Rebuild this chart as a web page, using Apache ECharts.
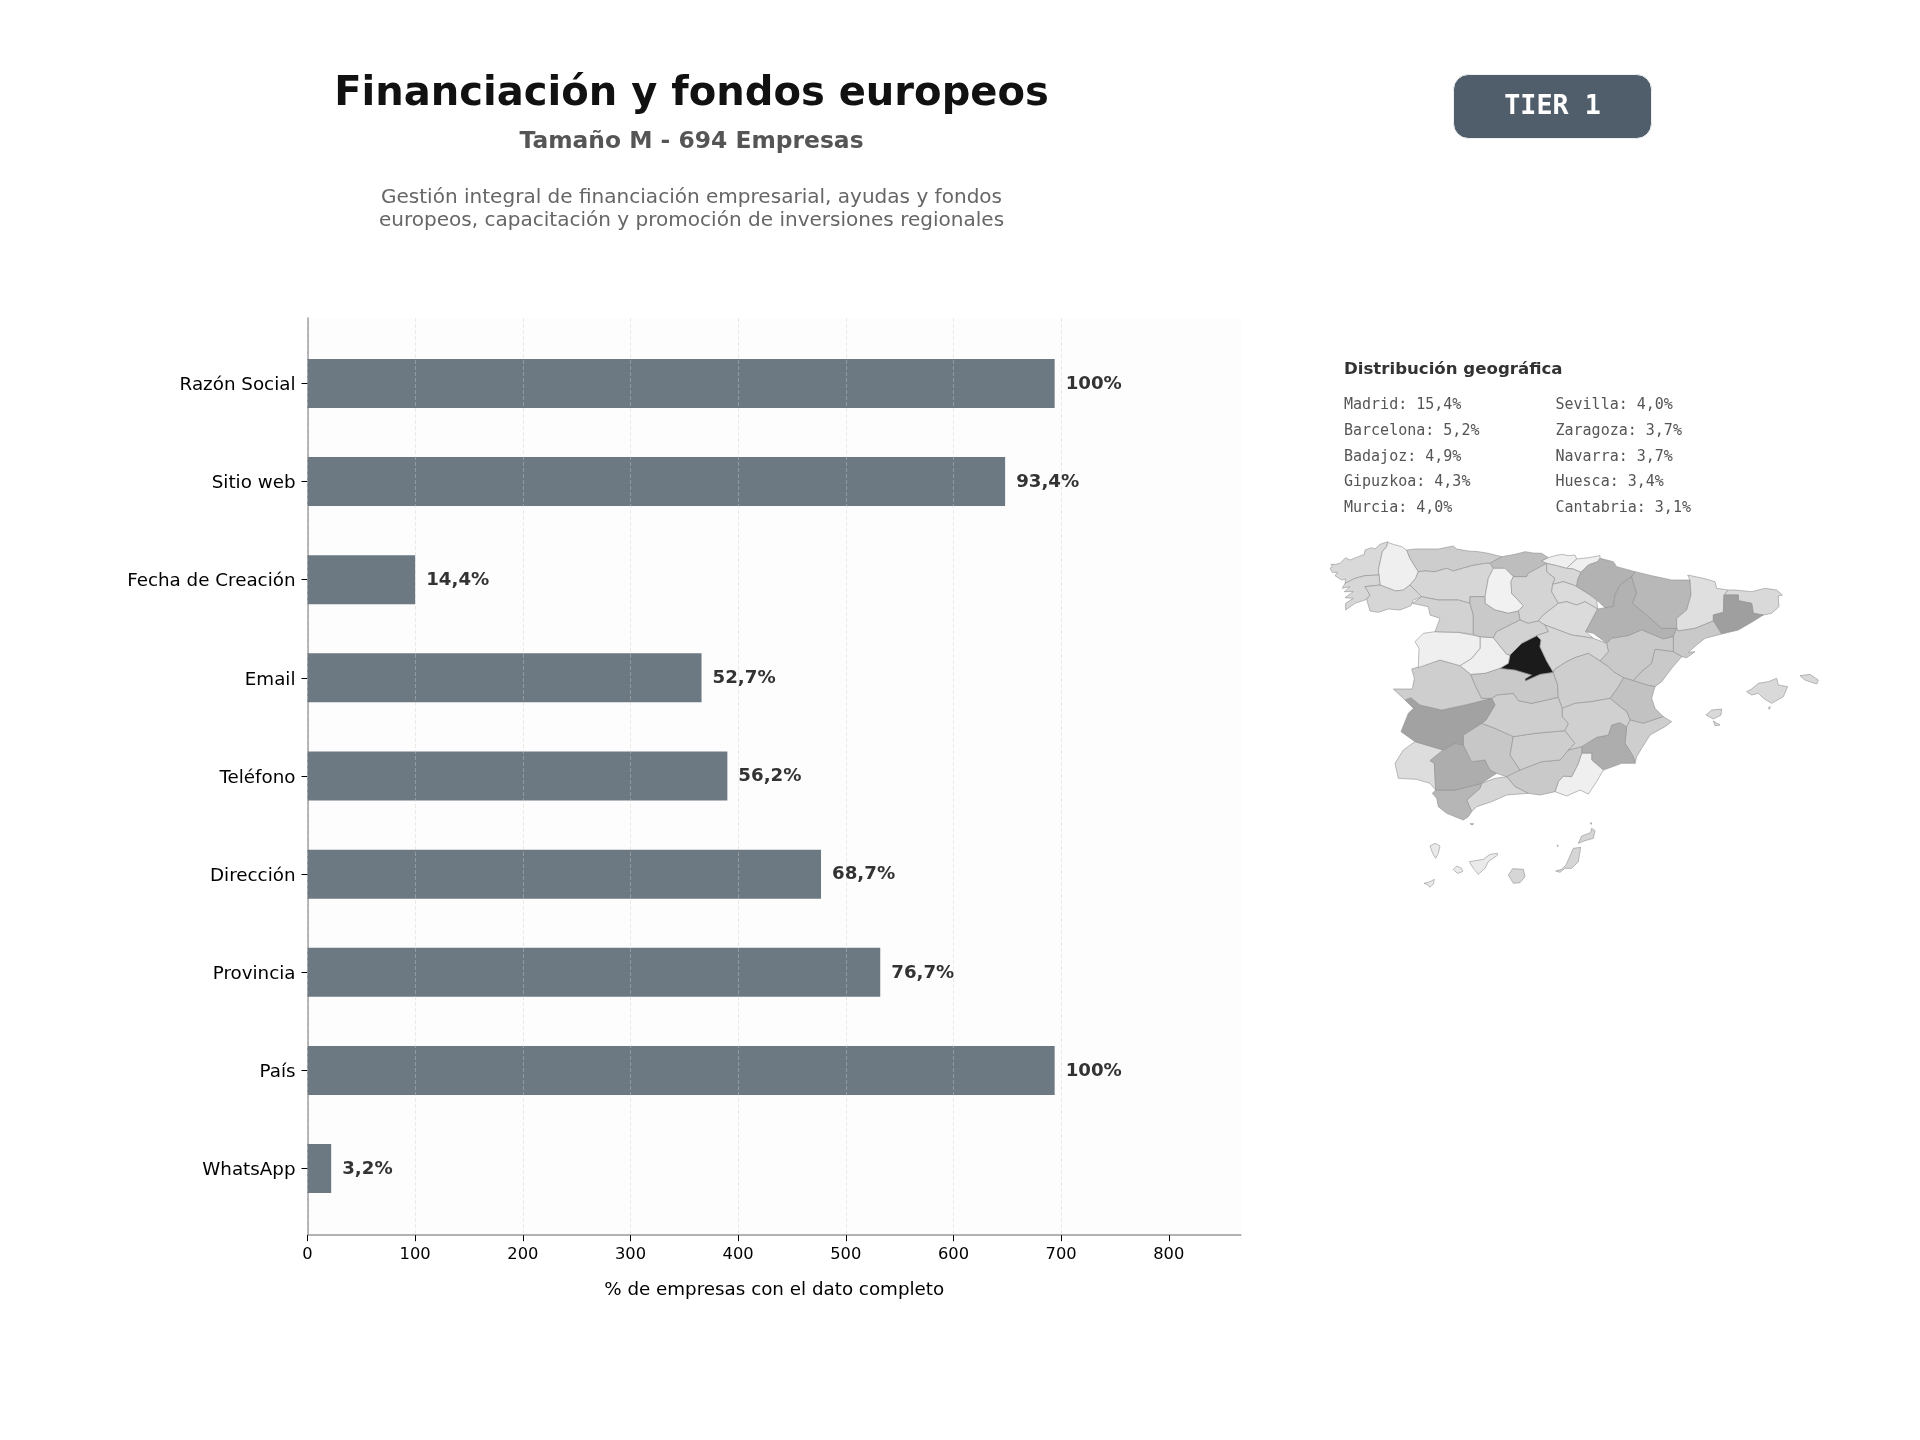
<!DOCTYPE html>
<html>
<head>
<meta charset="utf-8">
<style>
  html, body { margin: 0; padding: 0; background: #fff; }
  #chart { width: 1920px; height: 1440px; }
</style>
<script src="https://cdn.jsdelivr.net/npm/echarts@6/dist/echarts.min.js"></script>
</head>
<body>
<div id="chart"></div>
<script>
// datos de la figura
var campos = ['Razón Social', 'Sitio web', 'Fecha de Creación', 'Email', 'Teléfono', 'Dirección', 'Provincia', 'País', 'WhatsApp'];
var empresas = [694, 648, 100, 366, 390, 477, 532, 694, 22];
var etiquetas = ['100%', '93,4%', '14,4%', '52,7%', '56,2%', '68,7%', '76,7%', '100%', '3,2%'];
var ticksX = [0, 100, 200, 300, 400, 500, 600, 700, 800];
var maxX = 867;

var titulo = 'Financiación y fondos europeos';
var subtitulo = 'Tamaño M - 694 Empresas';
var descripcion = 'Gestión integral de financiación empresarial, ayudas y fondos\neuropeos, capacitación y promoción de inversiones regionales';
var tier = 'TIER 1';
var ejeX = '% de empresas con el dato completo';

var geoTitulo = 'Distribución geográfica';
var geoCol1 = ['Madrid: 15,4%', 'Barcelona: 5,2%', 'Badajoz: 4,9%', 'Gipuzkoa: 4,3%', 'Murcia: 4,0%'];
var geoCol2 = ['Sevilla: 4,0%', 'Zaragoza: 3,7%', 'Navarra: 3,7%', 'Huesca: 3,4%', 'Cantabria: 3,1%'];

var provincias = ['A Coruña', 'Lugo', 'Pontevedra', 'Ourense', 'Asturias', 'Cantabria', 'León', 'Palencia', 'Burgos', 'Bizkaia', 'Gipuzkoa', 'Álava', 'Navarra', 'La Rioja', 'Soria', 'Zaragoza', 'Huesca', 'Lleida', 'Girona', 'Barcelona', 'Tarragona', 'Teruel', 'Castellón', 'Valencia', 'Alicante', 'Murcia', 'Almería', 'Granada', 'Málaga', 'Cádiz', 'Huelva', 'Sevilla', 'Córdoba', 'Jaén', 'Ciudad Real', 'Badajoz', 'Cáceres', 'Toledo', 'Madrid', 'Ávila', 'Salamanca', 'Zamora', 'Valladolid', 'Segovia', 'Guadalajara', 'Cuenca', 'Albacete', 'Baleares', 'Santa Cruz de Tenerife', 'Las Palmas'];
var pesos = [1.5, 0.3, 1.6, 1.7, 2.2, 3.1, 1.7, 0.2, 1.8, 0.3, 0.3, 1.6, 3.7, 1.4, 1.4, 3.7, 3.4, 1.2, 1.5, 5.2, 2.4, 2.4, 2.4, 2.8, 2.1, 4.0, 0.3, 2.4, 1.7, 3.5, 1.3, 4.0, 2.5, 2.1, 2.1, 4.9, 2.1, 2.4, 15.4, 0.3, 0.3, 1.9, 2.4, 1.9, 1.7, 2.1, 2.0, 1.5, 0.6, 1.7];

// contornos del mapa base, una lista de anillos por provincia
var contornos = {
  'A Coruña': [[[15,100],[22,95],[18,88],[32,88],[45,85],[62,68],[75,75],[100,65],[118,58],[120,45],[140,38],[150,42],[165,28],[188,20],[185,35],[172,50],[160,105],[162,120],[120,122],[90,130],[60,145],[62,132],[50,135],[30,122],[38,112],[22,112]]],
  'Lugo': [[[188,22],[205,28],[230,35],[245,45],[255,70],[280,110],[272,130],[255,150],[235,165],[212,168],[165,150],[162,120],[160,105],[172,50],[185,35]]],
  'Pontevedra': [[[162,120],[120,122],[90,130],[60,145],[52,160],[75,155],[58,170],[85,170],[60,188],[85,190],[62,205],[62,225],[90,205],[125,193],[135,180],[120,155],[165,150]]],
  'Ourense': [[[120,155],[165,150],[212,168],[235,165],[255,150],[270,165],[290,185],[265,195],[258,212],[225,225],[190,222],[160,232],[135,228],[125,193],[135,180]]],
  'Asturias': [[[245,45],[270,42],[300,42],[340,42],[385,33],[395,42],[430,48],[460,50],[490,55],[530,65],[495,85],[480,85],[440,92],[385,108],[365,100],[330,110],[300,108],[280,110],[255,70]]],
  'Cantabria': [[[530,65],[570,58],[600,50],[625,54],[650,55],[670,68],[650,78],[665,85],[610,115],[605,125],[590,125],[565,125],[540,100],[505,100],[495,85]]],
  'León': [[[280,110],[300,108],[330,110],[365,100],[385,108],[440,92],[480,85],[495,85],[505,100],[490,130],[480,185],[435,185],[435,205],[400,195],[340,195],[290,185],[270,165],[255,150],[272,130]]],
  'Palencia': [[[505,100],[540,100],[565,125],[558,140],[560,175],[595,212],[580,228],[550,235],[510,225],[480,205],[480,185],[490,130]]],
  'Burgos': [[[565,125],[590,125],[605,125],[610,115],[665,85],[665,110],[690,130],[683,148],[680,170],[700,205],[655,240],[640,258],[610,265],[585,255],[580,228],[595,212],[560,175],[558,140]]],
  'Bizkaia': [[[670,68],[690,62],[710,58],[730,62],[750,60],[755,72],[725,100],[695,92],[665,85],[650,78]]],
  'Gipuzkoa': [[[755,72],[790,68],[825,62],[825,70],[818,80],[790,90],[768,112],[745,102],[725,100]]],
  'Álava': [[[665,85],[695,92],[725,100],[745,102],[768,112],[758,135],[755,155],[745,150],[715,140],[683,148],[690,130],[665,110]]],
  'Navarra': [[[825,70],[865,80],[875,95],[930,110],[920,125],[885,150],[870,180],[865,215],[840,218],[815,195],[795,180],[755,155],[758,135],[768,112],[790,90],[818,80]]],
  'La Rioja': [[[683,148],[715,140],[745,150],[755,155],[795,180],[815,195],[818,222],[780,200],[755,210],[725,200],[700,205],[680,170]]],
  'Soria': [[[700,205],[725,200],[755,210],[780,200],[818,222],[790,275],[782,290],[805,310],[775,305],[740,300],[700,285],[660,270],[640,258],[655,240]]],
  'Zaragoza': [[[870,180],[865,215],[840,218],[818,222],[790,275],[782,290],[805,295],[845,325],[860,310],[910,302],[950,285],[1015,312],[1045,305],[1055,280],[1010,280],[965,240],[922,205],[935,175],[920,125],[885,150]]],
  'Huesca': [[[930,110],[980,122],[1040,135],[1095,135],[1098,180],[1085,225],[1055,250],[1055,280],[1010,280],[965,240],[922,205],[935,175],[920,125]]],
  'Lleida': [[[1088,120],[1135,130],[1170,140],[1175,160],[1210,165],[1197,180],[1195,232],[1165,240],[1165,258],[1110,280],[1060,288],[1055,280],[1055,250],[1085,225],[1098,180],[1095,135]]],
  'Girona': [[[1210,165],[1230,165],[1280,170],[1320,160],[1355,165],[1372,180],[1360,183],[1360,190],[1362,215],[1340,235],[1315,240],[1285,235],[1280,205],[1240,197],[1240,180],[1197,180]]],
  'Barcelona': [[[1197,180],[1240,180],[1240,197],[1280,205],[1285,235],[1315,240],[1280,262],[1240,285],[1190,297],[1165,258],[1165,240],[1195,232]]],
  'Tarragona': [[[1190,297],[1140,310],[1115,330],[1090,352],[1110,350],[1085,368],[1070,365],[1045,350],[1045,305],[1055,280],[1060,288],[1110,280],[1165,258]]],
  'Teruel': [[[845,325],[860,310],[910,302],[950,285],[1015,312],[1045,305],[1045,350],[990,343],[980,385],[950,410],[925,437],[895,428],[865,410],[850,395],[825,378],[850,350]]],
  'Castellón': [[[990,343],[1045,350],[1070,365],[1040,400],[1010,440],[990,455],[965,450],[925,437],[950,410],[980,385]]],
  'Valencia': [[[895,428],[925,437],[965,450],[990,455],[980,490],[990,520],[1015,545],[955,565],[915,555],[905,530],[885,515],[855,490],[880,455]]],
  'Alicante': [[[955,565],[1015,545],[1040,560],[1020,575],[975,600],[950,640],[935,665],[930,685],[925,665],[900,625],[905,575],[915,555]]],
  'Murcia': [[[770,635],[815,607],[850,600],[860,570],[885,563],[905,575],[900,625],[925,665],[930,685],[890,685],[850,700],[835,705],[800,675],[800,655],[770,655]]],
  'Almería': [[[770,655],[800,655],[800,675],[835,705],[815,740],[790,777],[765,765],[725,783],[690,770],[700,740],[715,723],[740,725],[760,685]]],
  'Granada': [[[545,725],[560,715],[585,705],[650,680],[705,675],[730,645],[770,635],[770,655],[760,685],[740,725],[715,723],[700,740],[690,770],[645,780],[610,775],[570,755]]],
  'Málaga': [[[545,725],[570,755],[610,775],[545,780],[500,800],[455,815],[440,830],[425,795],[465,760],[470,745],[510,730]]],
  'Cádiz': [[[322,775],[332,765],[390,765],[470,745],[465,760],[425,795],[440,830],[430,845],[415,855],[365,835],[340,815],[335,790]], [[435,866],[446,866],[442,870]]],
  'Huelva': [[[210,685],[235,645],[270,620],[355,645],[315,677],[328,685],[332,765],[315,745],[275,733],[220,730]]],
  'Sevilla': [[[315,677],[355,645],[390,625],[415,630],[440,680],[480,675],[495,705],[515,715],[470,745],[390,765],[332,765],[328,685]]],
  'Córdoba': [[[415,600],[470,565],[510,580],[565,605],[555,660],[585,705],[545,725],[515,715],[495,705],[480,675],[440,680],[415,630]]],
  'Jaén': [[[565,605],[630,595],[720,587],[750,625],[730,645],[705,675],[650,680],[585,705],[555,660]]],
  'Ciudad Real': [[[515,480],[565,475],[580,497],[620,505],[700,487],[712,520],[712,545],[730,565],[720,587],[630,595],[565,605],[510,580],[470,565],[483,555],[510,510],[500,490]]],
  'Badajoz': [[[240,495],[258,488],[285,510],[350,525],[420,510],[500,490],[510,510],[483,555],[470,565],[415,600],[415,630],[390,625],[355,645],[270,620],[228,590],[250,535],[265,520]]],
  'Cáceres': [[[260,402],[345,375],[405,392],[437,418],[450,450],[470,490],[500,490],[420,510],[350,525],[285,510],[258,488],[240,495],[205,462],[262,462],[268,430]]],
  'Toledo': [[[437,418],[480,415],[525,400],[570,405],[620,420],[602,437],[645,418],[685,412],[698,450],[700,487],[620,505],[580,497],[565,475],[515,480],[500,490],[470,490],[450,450]]],
  'Madrid': [[[525,400],[550,385],[555,360],[590,325],[635,302],[648,315],[645,335],[665,378],[685,412],[645,418],[602,437],[600,432],[620,420],[570,405]]],
  'Ávila': [[[465,305],[505,308],[545,358],[555,360],[550,385],[525,400],[480,415],[437,418],[405,392],[440,370],[465,340]]],
  'Salamanca': [[[270,320],[295,295],[330,290],[400,292],[465,305],[465,340],[440,370],[405,392],[345,375],[280,398],[282,340]]],
  'Zamora': [[[262,205],[290,185],[340,195],[400,195],[435,205],[445,240],[445,298],[400,292],[330,290],[345,250],[315,240],[310,215]]],
  'Valladolid': [[[435,185],[480,185],[480,205],[510,225],[550,235],[580,228],[585,255],[515,290],[505,308],[465,305],[445,298],[445,240],[435,205]]],
  'Segovia': [[[515,290],[585,255],[610,265],[640,258],[660,270],[670,290],[635,302],[590,325],[555,360],[545,358],[505,308]]],
  'Guadalajara': [[[660,270],[700,285],[740,300],[775,305],[805,310],[845,325],[850,350],[825,378],[790,355],[750,368],[725,380],[690,402],[685,412],[665,378],[645,335],[648,315],[635,302],[670,290]]],
  'Cuenca': [[[690,402],[725,380],[750,368],[790,355],[825,378],[850,395],[865,410],[895,428],[880,455],[855,490],[800,500],[750,505],[712,520],[700,487],[698,450],[685,412]]],
  'Albacete': [[[712,520],[750,505],[800,500],[855,490],[885,515],[905,530],[915,555],[905,575],[885,563],[860,570],[850,600],[815,607],[770,635],[730,645],[750,625],[720,587],[730,565],[712,545]]],
  'Baleares': [[[1265,470],[1280,462],[1300,445],[1330,440],[1355,430],[1360,450],[1388,455],[1375,485],[1340,505],[1315,490],[1300,475],[1280,480]], [[1425,422],[1455,418],[1480,435],[1475,447],[1440,435]], [[1143,540],[1160,525],[1190,522],[1188,540],[1165,552]], [[1165,558],[1185,570],[1170,572]], [[1330,518],[1336,515],[1333,523]]],
  'Santa Cruz de Tenerife': [[[315,933],[330,925],[345,933],[340,955],[332,970],[323,955]], [[433,980],[475,973],[495,958],[517,955],[518,960],[490,980],[480,1000],[460,1018],[445,1000]], [[385,1003],[395,993],[410,1000],[413,1010],[397,1015]], [[297,1045],[315,1040],[328,1033],[325,1047],[315,1057],[310,1050]]],
  'Las Palmas': [[[550,1020],[563,1001],[595,1003],[600,1025],[585,1043],[565,1045]], [[723,990],[745,940],[767,937],[760,980],[740,1000],[720,1000],[705,1012],[692,1008],[710,1003]], [[760,925],[770,903],[797,893],[800,880],[810,887],[805,910],[780,917]], [[795,865],[800,863],[799,868]], [[696,931],[700,931],[698,935]]]
};

// geojson a partir de los contornos (y hacia abajo en la traza)
var minU = Infinity, maxU = -Infinity, minV = Infinity, maxV = -Infinity;
var features = Object.keys(contornos).map(function (nombre) {
  var anillos = contornos[nombre].map(function (anillo) {
    var r = anillo.map(function (p) {
      minU = Math.min(minU, p[0]); maxU = Math.max(maxU, p[0]);
      minV = Math.min(minV, p[1]); maxV = Math.max(maxV, p[1]);
      return [p[0], -p[1]];
    });
    r.push(r[0]);
    return [r];
  });
  return { type: 'Feature', properties: { name: nombre }, geometry: { type: 'MultiPolygon', coordinates: anillos } };
});
echarts.registerMap('espana', { type: 'FeatureCollection', features: features });

var chart = echarts.init(document.getElementById('chart'), null, { width: 1920, height: 1440 });

var fuente = '"DejaVu Sans", sans-serif';
var mono = '"DejaVu Sans Mono", monospace';

function listaGeo(col, x) {
  return col.map(function (t, i) {
    return { type: 'text', x: x, y: 405.2 + i * 25.8, silent: true,
      style: { text: t, fontFamily: mono, fontSize: 15, fill: '#555555', verticalAlign: 'middle' } };
  });
}

var option = {
  animation: false,
  backgroundColor: '#ffffff',
  textStyle: { fontFamily: fuente },
  grid: [
    // zona de barras
    { left: 307.5, width: 933.4, top: 334.3, height: 883.4, show: false },
    // marco con fondo, rejilla y eje inferior
    { left: 307.5, width: 933.4, top: 318, height: 917.2, show: true, backgroundColor: '#fdfdfd', borderWidth: 0 }
  ],
  xAxis: [
    { gridIndex: 0, type: 'value', min: 0, max: maxX, show: false },
    {
      gridIndex: 1, type: 'value', min: 0, max: maxX, interval: 100, z: 4,
      name: ejeX, nameLocation: 'middle', nameGap: 46,
      nameTextStyle: { fontFamily: fuente, fontSize: 18.3, color: '#000000' },
      axisLine: { onZero: false, lineStyle: { color: '#999999', width: 1.5 } },
      axisTick: { show: true, length: 6, customValues: ticksX, lineStyle: { color: '#000000', width: 1 } },
      axisLabel: { fontFamily: fuente, fontSize: 16.3, color: '#000000', margin: 12, customValues: ticksX },
      splitLine: { show: true, showMaxLine: false, lineStyle: { color: 'rgba(205,205,205,0.4)', type: 'dashed', width: 1 } }
    }
  ],
  yAxis: [
    {
      gridIndex: 0, type: 'category', inverse: true, data: campos,
      axisLine: { show: false },
      axisTick: { show: true, alignWithLabel: true, length: 6, lineStyle: { color: '#000000', width: 1 } },
      axisLabel: {
        margin: 12,
        formatter: function (v) { return '{c|' + v + '}'; },
        rich: { c: { fontFamily: fuente, fontSize: 18.3, color: '#000000', padding: [4, 0, 0, 0] } }
      }
    },
    {
      gridIndex: 1, type: 'value', min: 0, max: 1,
      axisLine: { show: true, onZero: false, lineStyle: { color: '#999999', width: 1.5 } },
      axisTick: { show: false }, axisLabel: { show: false }, splitLine: { show: false }
    }
  ],
  visualMap: {
    show: false, seriesIndex: 1, min: 0, max: 16,
    inRange: { color: ['#f5f5f5', '#d0d0d0', '#adadad', '#959595', '#7c7c7c', '#646464', '#4c4c4c', '#333333', '#111111'] }
  },
  series: [
    {
      type: 'bar', xAxisIndex: 0, yAxisIndex: 0, data: empresas, barWidth: 49,
      itemStyle: { color: '#6c7882' },
      label: {
        show: true, position: 'right', distance: 11, offset: [0, 0.5],
        fontFamily: fuente, fontSize: 18.2, fontWeight: 'bold', color: '#333333',
        formatter: function (p) { return etiquetas[p.dataIndex]; }
      }
    },
    {
      type: 'map', map: 'espana', roam: false, silent: true, aspectScale: 1,
      left: 1325 + minU / 3, top: 535 + minV / 3,
      width: (maxU - minU) / 3, height: (maxV - minV) / 3,
      label: { show: false },
      itemStyle: { borderColor: '#909090', borderWidth: 0.6 },
      data: provincias.map(function (n, i) { return { name: n, value: pesos[i] }; })
    }
  ],
  graphic: [
    { type: 'text', x: 691.5, y: 95, silent: true, style: { text: titulo, fontFamily: fuente, fontSize: 40.05, fontWeight: 'bold', fill: '#111111', align: 'center', verticalAlign: 'middle' } },
    { type: 'text', x: 691.5, y: 142, silent: true, style: { text: subtitulo, fontFamily: fuente, fontSize: 23.4, fontWeight: 'bold', fill: '#555555', align: 'center', verticalAlign: 'middle' } },
    { type: 'text', x: 691.5, y: 209, silent: true, style: { text: descripcion, fontFamily: fuente, fontSize: 20.05, lineHeight: 23, fill: '#666666', align: 'center', verticalAlign: 'middle' } },
    { type: 'rect', shape: { x: 1453.5, y: 74.5, width: 198, height: 64, r: 15 }, silent: true, style: { fill: '#505e6c', stroke: '#eef0f2', lineWidth: 1 } },
    { type: 'text', x: 1552.5, y: 107.5, silent: true, style: { text: tier, fontFamily: mono, fontSize: 26.7, fontWeight: 'bold', fill: '#ffffff', align: 'center', verticalAlign: 'middle' } },
    { type: 'text', x: 1344, y: 369.5, silent: true, style: { text: geoTitulo, fontFamily: fuente, fontSize: 16.6, fontWeight: 'bold', fill: '#333333', verticalAlign: 'middle' } }
  ].concat(listaGeo(geoCol1, 1344)).concat(listaGeo(geoCol2, 1555.5))
};
chart.setOption(option);
</script>
</body>
</html>
